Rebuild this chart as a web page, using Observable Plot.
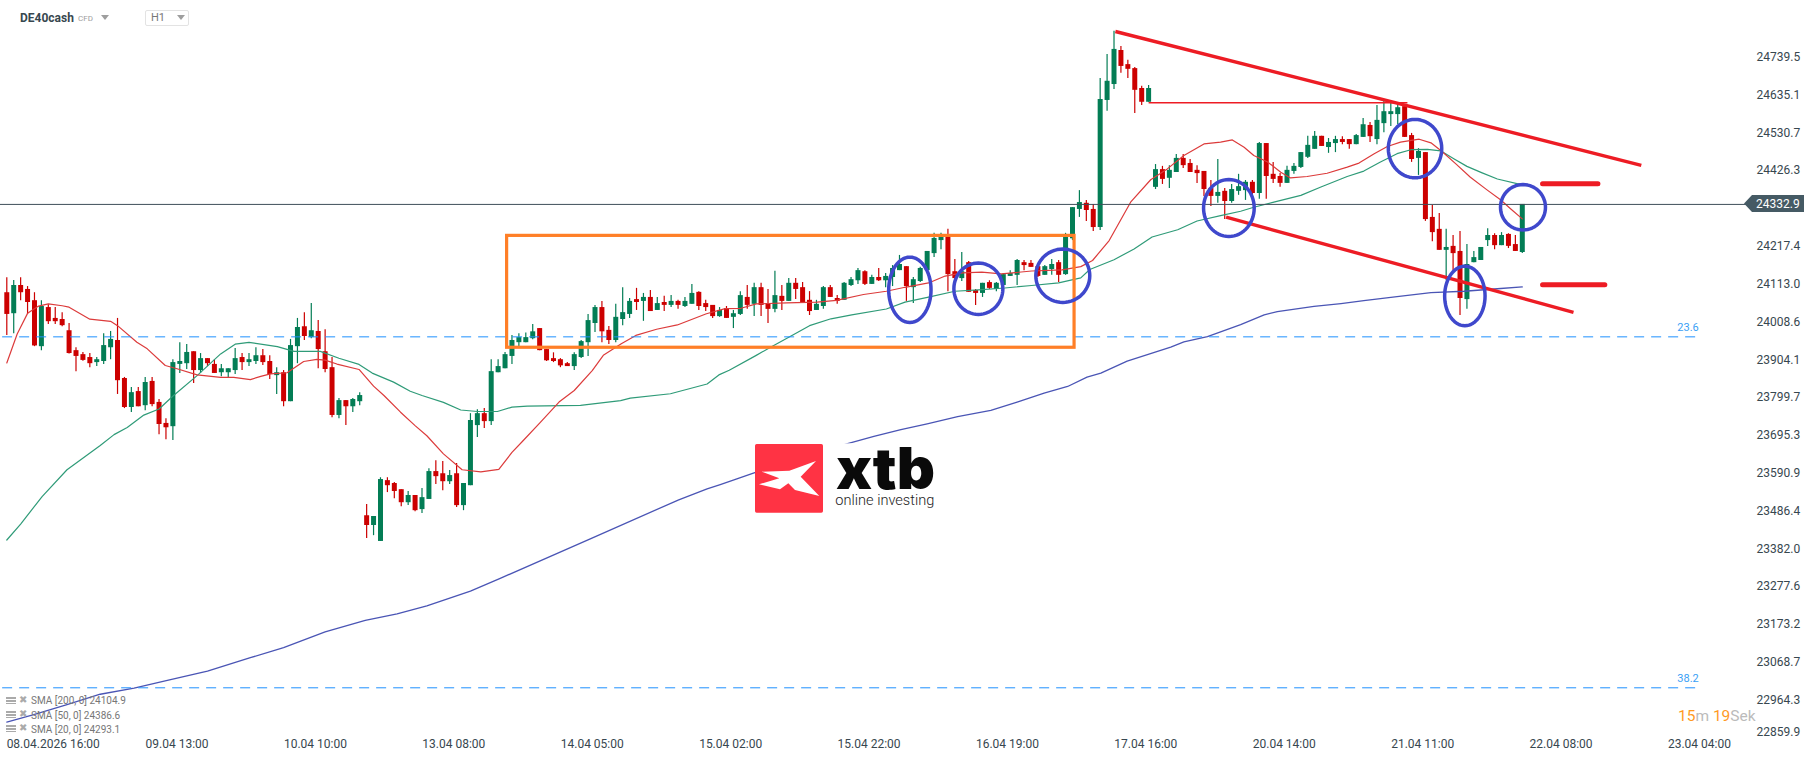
<!DOCTYPE html>
<html>
<head>
<meta charset="utf-8">
<script src="https://cdn.jsdelivr.net/npm/d3@7"></script>
<script src="https://cdn.jsdelivr.net/npm/@observablehq/plot@0.6"></script>
<style>
html,body{margin:0;padding:0;background:#fff;overflow:hidden}
#wrap{position:relative;width:1816px;height:761px;font-family:Roboto,sans-serif}
#wrap svg{display:block}
.ov{position:absolute;white-space:nowrap}
.tri{position:absolute;width:0;height:0;border-left:4px solid transparent;border-right:4px solid transparent;border-top:5px solid #9e9e9e}
.bars{position:absolute;left:6px;width:10px;height:7px;background:repeating-linear-gradient(#aaa 0 2px,#fff 2px 3px)}
</style>
</head>
<body>
<div id="wrap"></div>
<script>
const open=[24089,24031,24109,24098,24067,23940,24048,24018,24015,23984,
23929,23918,23910,23896,23899,23937,23957,23852,23772,23816,
23777,23844,23786,23728,23719,23891,23893,23926,23874,23907,
23891,23868,23868,23874,23910,23896,23899,23915,23899,23860,
23868,23788,23940,23995,23965,23982,23926,23882,23750,23791,
23774,23788,23473,23446,23402,23570,23562,23545,23509,23529,
23490,23518,23595,23589,23567,23589,23501,23556,23722,23755,
23733,23868,23879,23913,23951,23951,23962,23990,23932,23907,
23904,23893,23885,23910,23951,24004,24048,23985,23957,24015,
24029,24070,24065,24076,24040,24062,24054,24065,24051,24057,
24090,24059,24054,24023,24045,24021,24029,24076,24057,24103,
24059,24043,24079,24065,24115,24103,24068,24040,24051,24103,
24073,24068,24109,24122,24147,24112,24131,24122,24131,24150,
24161,24103,24120,24150,24197,24233,24244,24147,24128,24172,
24095,24087,24117,24098,24109,24134,24137,24172,24170,24161,
24137,24153,24172,24139,24238,24319,24336,24319,24269,24620,
24664,24758,24719,24708,24653,24615,24380,24429,24405,24421,
24460,24446,24427,24424,24377,24355,24369,24341,24369,24371,
24394,24363,24501,24416,24410,24391,24424,24435,24463,24485,
24521,24490,24501,24512,24512,24498,24518,24551,24512,24556,
24581,24581,24603,24523,24460,24476,24297,24264,24206,24217,
24203,24070,24172,24178,24233,24247,24219,24250,24222,24200];
const high=[24130,24123,24130,24106,24089,24067,24056,24048,24034,24004,
23937,23924,23921,23910,23976,23982,24018,23855,23827,23827,
23855,23855,23794,23741,23904,23951,23946,23926,23921,23907,
23903,23891,23879,23935,23921,23921,23937,23932,23915,23882,
23874,23960,24018,24034,24059,24012,23987,23910,23797,23791,
23797,23813,23504,23471,23578,23578,23565,23545,23540,23529,
23548,23603,23625,23623,23598,23617,23562,23755,23766,23769,
23904,23904,23924,23971,23976,23978,24001,23990,23932,23923,
23907,23896,23923,23957,24029,24054,24065,23996,24057,24103,
24073,24101,24087,24095,24076,24079,24081,24068,24076,24112,
24092,24068,24054,24048,24051,24040,24092,24109,24115,24115,
24098,24148,24109,24128,24128,24117,24092,24068,24106,24109,
24081,24117,24131,24156,24150,24137,24156,24142,24164,24192,
24161,24131,24159,24203,24253,24253,24264,24181,24200,24175,
24098,24115,24122,24117,24142,24150,24181,24178,24178,24164,
24164,24181,24178,24253,24324,24371,24344,24333,24681,24747,
24811,24769,24731,24711,24659,24661,24443,24438,24440,24471,
24471,24457,24440,24424,24399,24457,24377,24388,24416,24399,
24399,24504,24501,24449,24418,24438,24446,24476,24521,24534,
24521,24515,24521,24520,24512,24526,24570,24559,24606,24620,
24620,24609,24606,24529,24487,24476,24330,24308,24264,24247,
24258,24222,24203,24214,24266,24252,24255,24252,24247,24332.9];
const low=[23971,23976,24067,24029,23940,23929,24001,24001,23995,23920,
23871,23900,23882,23885,23891,23904,23808,23769,23758,23774,
23763,23774,23697,23683,23681,23866,23877,23838,23866,23885,
23866,23857,23852,23863,23874,23885,23891,23888,23849,23808,
23774,23788,23893,23957,23962,23879,23868,23744,23741,23722,
23758,23777,23410,23418,23402,23537,23520,23498,23501,23484,
23479,23518,23559,23542,23559,23496,23487,23556,23689,23714,
23722,23868,23879,23891,23940,23951,23959,23929,23899,23896,
23882,23885,23874,23907,23913,23979,23951,23946,23951,23998,
24018,24040,24010,24037,24040,24037,24048,24043,24048,24057,
24040,24037,24018,24021,24018,23990,24026,24043,24023,24023,
24004,24034,24040,24065,24070,24059,24026,24040,24043,24076,
24057,24068,24106,24112,24109,24112,24120,24103,24106,24150,
24065,24059,24117,24150,24186,24208,24092,24112,24120,24090,
24054,24076,24098,24092,24109,24134,24109,24150,24159,24131,
24137,24137,24117,24137,24233,24297,24286,24258,24261,24590,
24650,24695,24681,24584,24606,24615,24374,24388,24377,24421,
24432,24421,24391,24355,24327,24336,24291,24336,24358,24344,
24344,24347,24347,24391,24380,24391,24416,24432,24460,24485,
24493,24474,24476,24498,24485,24498,24518,24504,24498,24531,
24548,24553,24518,24449,24413,24286,24230,24206,24123,24150,
24026,24043,24172,24178,24217,24208,24219,24211,24203,24197];
const close=[24029,24109,24089,24062,23942,24051,24009,24009,23998,23921,
23913,23902,23893,23904,23943,23960,23846,23772,23813,23774,
23841,23780,23725,23716,23896,23899,23924,23874,23907,23893,
23866,23879,23879,23907,23896,23904,23915,23896,23863,23868,
23788,23943,23993,23968,23984,23932,23877,23750,23791,23774,
23794,23805,23446,23471,23573,23556,23540,23509,23529,23487,
23523,23595,23581,23567,23584,23501,23562,23736,23755,23733,
23871,23885,23918,23957,23965,23965,23981,23929,23901,23899,
23887,23885,23918,23954,24012,24048,23981,23957,24021,24034,
24065,24062,24076,24037,24059,24054,24065,24054,24065,24087,
24051,24048,24023,24040,24018,24031,24081,24054,24103,24054,
24043,24081,24065,24115,24098,24062,24037,24057,24103,24076,
24065,24115,24125,24150,24112,24131,24122,24134,24156,24167,
24106,24125,24156,24203,24239,24242,24139,24128,24147,24090,
24087,24115,24101,24115,24139,24142,24178,24164,24159,24134,
24161,24167,24137,24242,24324,24338,24316,24269,24623,24673,
24761,24714,24706,24648,24615,24653,24429,24402,24427,24460,
24440,24421,24418,24374,24355,24366,24341,24374,24382,24394,
24363,24501,24410,24402,24391,24427,24438,24476,24496,24521,
24493,24504,24512,24504,24498,24523,24553,24520,24565,24589,
24589,24600,24518,24457,24479,24291,24255,24206,24214,24197,
24073,24167,24186,24214,24247,24219,24247,24217,24203,24332.9];

const sma20Bar=[0,1.5,3,4.6,6,8,9,12,15,16,18.8,20.3,22.9,24.6,27.5,30.9,32.8,35.2,36.7,38.1,40.5,42.9,44.8,46,47.7,50.9,53,54.5,56.9,59,60.7,63.1,65.8,68.5,71.1,73,74.5,77.1,79.8,82,84.6,86.2,88.8,90.9,93.9,96.9,101.1,103.8,106.1,108.3,112.7,117.1,119.9,123.8,127.1,129.8,133.2,135.6,138.1,140.9,143.7,148.1,152.5,155.2,156.9,159.3,162.4,165.3,167.7,170.1,173,175.4,177.1,178.8,180.2,182.2,184.1,185.5,187.9,190.8,193.7,195.4,197.6,199.5,201.4,204.1,205.8,207.4,209.4,211.5,213.9,215.9,217.3,219];
const sma20Val=[23895,23975,24032,24052,24058,24053,24049,24016,24010,23998,23952,23934,23888,23879,23862,23855,23855,23849,23858,23865,23868,23899,23905,23903,23892,23877,23831,23805,23759,23722,23694,23644,23600,23594,23601,23648,23678,23731,23787,23819,23874,23916,23948,23971,23988,24000,24031,24045,24046,24058,24061,24063,24068,24084,24093,24104,24116,24135,24144,24146,24141,24149,24152,24161,24178,24233,24339,24401,24431,24468,24500,24505,24511,24491,24468,24450,24422,24406,24410,24419,24436,24447,24473,24493,24505,24513,24503,24479,24445,24408,24373,24345,24321,24293];
const sma50Bar=[0,2,5.1,8.7,13.5,15.5,17.4,19.8,22,24.1,27.5,30.9,33,35,39.1,41.5,45.3,48,50.9,52.8,55.9,58.3,60,63.1,65.6,68,70.9,73,75.2,82.9,88.7,90.1,95.9,101.2,102.9,104.4,108.3,110.5,113,116,119.1,122.1,127.1,129.8,133.2,137,140.4,144.2,148.1,152,155.2,156.5,160,162.9,165.5,169.2,172,175.4,178.3,180.2,183.1,187,189.9,193.7,196.1,198.5,200.9,202.9,205.3,207.2,209.1,211,213.2,215.4,219];
const sma50Val=[23406,23450,23526,23600,23667,23697,23717,23751,23768,23805,23860,23920,23947,23952,23940,23927,23927,23908,23891,23867,23842,23817,23805,23786,23765,23761,23761,23773,23776,23778,23791,23798,23810,23837,23862,23875,23916,23940,23966,23998,24017,24028,24044,24063,24077,24093,24097,24102,24109,24116,24130,24153,24180,24210,24243,24263,24287,24302,24314,24325,24339,24358,24381,24410,24425,24450,24473,24484,24485,24481,24459,24438,24420,24403,24387];
const sma200Bar=[0,3.9,8.7,13.5,18.4,23.2,29,35.2,40,46,51.8,56.4,60.7,67,71.3,84.4,97.1,101.2,103.1,105.5,108.2,121.5,125.3,129.2,133,137.4,142.2,146,149.9,153.3,156.1,158.1,161.9,168.2,170.1,173.5,178.3,181.7,183.6,188.9,192.8,196.1,200.9,205.8,210.6,215.4,219];
const sma200Val=[22903,22924,22951,22980,22997,23018,23044,23081,23109,23152,23184,23202,23224,23265,23300,23410,23517,23547,23559,23575,23593,23672,23692,23711,23727,23747,23764,23787,23812,23830,23856,23867,23900,23939,23953,23968,24001,24028,24037,24051,24059,24067,24078,24089,24093,24100,24105];

const priceTicks=[24739.5,24635.1,24530.7,24426.3,24217.4,24113.0,24008.6,23904.1,23799.7,23695.3,23590.9,23486.4,23382.0,23277.6,23173.2,23068.7,22964.3];
const lastPriceTick=[22859.9];
const timeBars=[24.6,44.6,64.6,84.6,104.6,124.6,144.6,164.6,184.6,204.6,224.6,244.6];
const timeLabels=["09.04 13:00","10.04 10:00","13.04 08:00","14.04 05:00","15.04 02:00","15.04 22:00","16.04 19:00","17.04 16:00","20.04 14:00","21.04 11:00","22.04 08:00","23.04 04:00"];
const firstBar=[4.6], firstLabel="08.04.2026 16:00";
const lastPrice=24332.9;
const fibLevel=[23967.1,22997.8], fibName=["23.6","38.2"];

const trendBars=[[160.2,236.2],[176.2,226.4],[165,202.4]];
const trendVals=[[24810.5,24441],[24297.6,24035],[24613.5,24613.5]];
const stopBars=[[222,230],[222,231]];
const stopVals=[24389.8,24110.9];
const boxBars=[72.3,154.3], boxVals=[23937,24246];
const ringBar=[130.5,140.4,152.6,176.6,203.5,210.7,219.1];
const ringVal=[24097,24100,24136,24323,24487,24080,24325];
const ringBarR=[3.06,3.54,3.9,3.66,3.86,2.92,3.25];
const ringValR=[90.3,71,73.7,78.7,80.6,82.3,62.7];

const candles=open.map((o,i)=>({i,o,h:high[i],l:low[i],c:close[i],col:close[i]>=o?"#037d55":"#cc0000"}));
const series=(bars,vals)=>bars.map((b,k)=>({b,v:vals[k]}));
const rings=ringBar.flatMap((b,r)=>d3.range(0,361,6).map(a=>({r,b:b+ringBarR[r]*Math.cos(a*Math.PI/180),v:ringVal[r]+ringValR[r]*Math.sin(a*Math.PI/180)})));
const trends=trendBars.map((b,k)=>({x1:b[0],x2:b[1],y1:trendVals[k][0],y2:trendVals[k][1]}));
const stops=stopBars.map((b,k)=>({x1:b[0],x2:b[1],y:stopVals[k]}));
const labelFor=new Map(timeBars.map((b,k)=>[b,timeLabels[k]]));
const xDomain=[-0.91,251.4];

const axisStyle={tickSize:0,fill:"#37474f",label:null};
const plot=Plot.plot({
  width:1816,height:761,marginTop:0,marginLeft:0,marginRight:70,marginBottom:30,
  style:{fontFamily:"Roboto, sans-serif",fontSize:"12px",background:"#fff",overflow:"visible"},
  x:{domain:xDomain,axis:null},
  y:{domain:[22877.1,24896.1],axis:null},
  marks:[
    Plot.ruleX(candles,{x:"i",y1:"l",y2:"h",stroke:"col",strokeWidth:1.2}),
    Plot.ruleX(candles,{x:"i",y1:"o",y2:"c",stroke:"col",strokeWidth:5}),
    Plot.line(series(sma200Bar.slice(0,21),sma200Val.slice(0,21)),{x:"b",y:"v",stroke:"#4a55b5",strokeWidth:1.3}),
    Plot.line(series(sma200Bar.slice(20),sma200Val.slice(20)),{x:"b",y:"v",stroke:"#4a55b5",strokeWidth:1.3}),
    Plot.line(series(sma50Bar,sma50Val),{x:"b",y:"v",stroke:"#2f9b78",strokeWidth:1.2}),
    Plot.line(series(sma20Bar,sma20Val),{x:"b",y:"v",stroke:"#dc3b3b",strokeWidth:1.2}),
    Plot.ruleY(fibLevel,{x1:-0.6,x2:244.8,stroke:"#1e90ff",strokeWidth:1,strokeDasharray:"10,7"}),
    Plot.text(fibName,{x:()=>244.5,y:(d,k)=>fibLevel[k],text:d=>d,textAnchor:"end",dy:-9,fill:"#3aa0f5",fontSize:11}),
    Plot.ruleY([lastPrice],{x1:xDomain[0],x2:xDomain[1],stroke:"#3f4f5a",strokeWidth:1}),
    Plot.rect([0],{x1:()=>boxBars[0],x2:()=>boxBars[1],y1:()=>boxVals[0],y2:()=>boxVals[1],fill:"none",stroke:"#ff7f27",strokeWidth:3.2}),
    Plot.link(trends.slice(0,2),{x1:"x1",x2:"x2",y1:"y1",y2:"y2",stroke:"#ed1c24",strokeWidth:3.4}),
    Plot.link(trends.slice(2),{x1:"x1",x2:"x2",y1:"y1",y2:"y2",stroke:"#ed1c24",strokeWidth:1.4}),
    Plot.ruleY(stops,{x1:"x1",x2:"x2",y:"y",stroke:"#ed1c24",strokeWidth:5,strokeLinecap:"round"}),
    Plot.line(rings,{x:"b",y:"v",z:"r",stroke:"#3f48cc",strokeWidth:3.5}),
    Plot.axisY(priceTicks,{...axisStyle,anchor:"right",tickPadding:10,tickFormat:d3.format(".1f")}),
    Plot.axisY(lastPriceTick,{...axisStyle,anchor:"right",tickPadding:10,dy:-6,tickFormat:d3.format(".1f")}),
    Plot.axisX(timeBars,{...axisStyle,anchor:"bottom",tickPadding:8,tickFormat:d=>labelFor.get(d)}),
    Plot.axisX(firstBar,{...axisStyle,anchor:"bottom",tickPadding:8,textAnchor:"start",dx:-32,tickFormat:()=>firstLabel})
  ]
});
const wrap=document.getElementById("wrap");
wrap.appendChild(plot);
wrap.insertAdjacentHTML("beforeend",`
<div class="ov" style="left:20px;top:11px;font-size:12px;font-weight:700;color:#37474f">DE40cash</div>
<div class="ov" style="left:78px;top:14px;font-size:8px;color:#9e9e9e">CFD</div>
<div class="tri" style="left:101px;top:15px"></div>
<div class="ov" style="left:145px;top:10px;width:42px;height:14px;border:1px solid #e3e3e3;border-radius:2px"></div>
<div class="ov" style="left:151px;top:11px;font-size:11px;color:#777">H1</div>
<div class="tri" style="left:177px;top:15px"></div>
<div class="bars" style="top:697px"></div><div class="ov" style="left:19px;top:694px;font-size:10px;color:#aaa">✖</div>
<div class="ov" style="left:31px;top:695px;font-size:10px;color:#777">SMA [200, 0] 24104.9</div>
<div class="bars" style="top:711px"></div><div class="ov" style="left:19px;top:708px;font-size:10px;color:#aaa">✖</div>
<div class="ov" style="left:31px;top:709.5px;font-size:10px;color:#777">SMA [50, 0] 24386.6</div>
<div class="bars" style="top:725px"></div><div class="ov" style="left:19px;top:722px;font-size:10px;color:#aaa">✖</div>
<div class="ov" style="left:31px;top:723.5px;font-size:10px;color:#777">SMA [20, 0] 24293.1</div>
<div class="ov" style="left:1678px;top:707px;font-size:15.5px;color:#bbb"><span style="color:#ff9a1f">15</span>m <span style="color:#ff9a1f">19</span>Sek</div>
<div class="ov" style="left:1744px;top:195px;width:60px;height:17px;background:#455a64;clip-path:polygon(0 50%,8px 0,100% 0,100% 100%,8px 100%)"></div>
<div class="ov" style="left:1756px;top:196px;font-size:12px;line-height:16px;color:#fff">24332.9</div>
<svg class="ov" style="left:740px;top:430px" width="220" height="90" viewBox="0 0 660 270">
<rect x="45" y="40" width="560" height="215" fill="#fff"/>
<rect x="45" y="42" width="204" height="206" rx="5" fill="#ff3344"/>
<polygon points="65,125 148,122 228,93 182,140 238,198 165,180 145,160 120,178 57,163 118,145" fill="#fff"/>
<text x="288" y="178" font-family="Inter,Roboto,sans-serif" font-weight="900" font-size="172" textLength="297" lengthAdjust="spacingAndGlyphs" fill="#0a0a0a">xtb</text>
<text x="286" y="225" font-family="Roboto,sans-serif" font-weight="300" font-size="44" textLength="297" lengthAdjust="spacingAndGlyphs" fill="#222">online investing</text>
</svg>`);
</script>
</body>
</html>
